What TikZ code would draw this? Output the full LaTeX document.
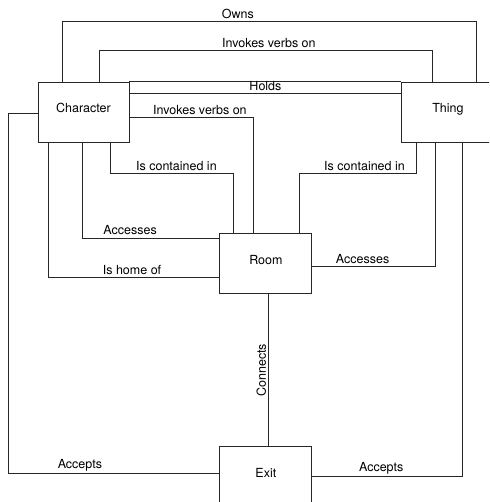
\documentclass[tikz,border=0pt]{standalone}
\usepackage{fontspec}
\setmainfont{TeX Gyre Heros}
\usetikzlibrary{positioning}

\begin{document}
\begin{tikzpicture}[
    x=1pt, y=-1pt,
    font=\fontsize{12.5}{14}\selectfont,
    box/.style={draw=black!85, line width=0.9pt, minimum width=92pt,
                minimum height=60pt, inner sep=0pt, text depth=8pt},
    link/.style={draw=black!85, line width=0.9pt},
    lbl/.style={above, inner sep=1.5pt},
  ]
    \useasboundingbox (0,0) rectangle (489,502);
    \clip (0,0) rectangle (489,502);
    \node[box, minimum width=91pt] (chr) at (83.5,112) {Character};
    \node[box, right=272pt of chr] (thg) {Thing};
    \node[box, below right=91pt and 90pt of chr] (room) {Room};
    \node[box, below=152pt of room] (exit) {Exit};
    % Character -- Thing
    \draw[link] (62,0 |- chr.north) -- (62,21) -- node[lbl, pos=0.425]{Owns} (476,21) -- (476,0 |- thg.north);
    \draw[link] (99,0 |- chr.north) -- (99,50) -- node[lbl, pos=0.51]{Invokes verbs on} (432,50) -- (432,0 |- thg.north);
    \draw[link] (chr.north east) -- (chr.north east -| thg.west);
    \draw[link] (chr.east |- 0,93) -- node[lbl]{Holds} (thg.west |- 0,93);
    % Character -- Room
    \draw[link] (chr.east |- 0,117) -- node[lbl, pos=0.57]{Invokes verbs on} (253,117) -- (253,0 |- room.north);
    \draw[link] (110,0 |- chr.south) -- (110,173) -- node[lbl, pos=0.54]{Is contained in} (233,173) -- (233,0 |- room.north);
    \draw[link] (82,0 |- chr.south) -- (82,238) -- node[lbl, pos=0.35, inner sep=3pt]{Accesses} (room.west |- 0,238);
    \draw[link] (48,0 |- chr.south) -- (48,277) -- node[lbl, pos=0.49]{Is home of} (room.west |- 0,277);
    % Thing -- Room
    \draw[link] (416,0 |- thg.south) -- (416,173) -- node[lbl, pos=0.44]{Is contained in} (299,173) -- (299,0 |- room.north);
    \draw[link] (435,0 |- thg.south) -- (435,266) -- node[lbl, pos=0.59]{Accesses} (room.east |- 0,266);
    % Exit
    \draw[link] (room.south -| 268,0) -- node[midway, rotate=90, anchor=south, inner sep=1.5pt]{Connects} (exit.north -| 268,0);
    \draw[link] (chr.west |- 0,113) -- (8,113) -- (8,473) -- node[lbl, pos=0.34]{Accepts} (exit.west |- 0,473);
    \draw[link] (462,0 |- thg.south) -- (462,476) -- node[lbl, pos=0.54]{Accepts} (exit.east |- 0,476);
  \end{tikzpicture}
\end{document}
